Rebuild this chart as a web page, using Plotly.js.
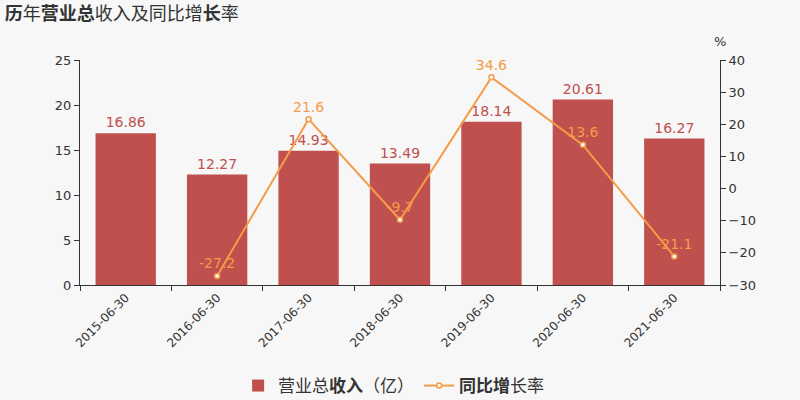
<!DOCTYPE html>
<html>
<head>
<meta charset="utf-8">
<script src="https://cdn.plot.ly/plotly-3.0.1.min.js"></script>
<style>html,body{margin:0;padding:0;background:#f7f7f7;}</style>
</head>
<body>
<div id="chart" style="width:800px;height:400px;"></div>
<script>
const categories = ["2015-06-30","2016-06-30","2017-06-30","2018-06-30","2019-06-30","2020-06-30","2021-06-30"];
const revenue = [16.86, 12.27, 14.93, 13.49, 18.14, 20.61, 16.27];
const growth = [null, -27.2, 21.6, -9.7, 34.6, 13.6, -21.1];
const leftTicks = [0, 5, 10, 15, 20, 25];
const rightTicks = [-30, -20, -10, 0, 10, 20, 30, 40];

const barColor = "#c0504d";
const lineColor = "#f39c4a";
const fontFam = "DejaVu Sans, Noto Sans CJK SC, sans-serif";

const traces = [
  {
    type: "bar",
    name: "营业总<b>收入</b>（亿）",
    x: categories,
    y: revenue,
    marker: {color: barColor},
    text: revenue.map(v => v.toFixed(2)),
    textposition: "outside",
    textfont: {color: barColor, size: 14, family: fontFam},
    cliponaxis: false,
    hoverinfo: "x+y"
  },
  {
    type: "scatter",
    mode: "lines+markers+text",
    name: "<b>同比增</b>长率",
    x: categories,
    y: growth,
    yaxis: "y2",
    line: {color: lineColor, width: 2},
    marker: {color: "#ffffff", size: 5, line: {color: lineColor, width: 1.5}},
    text: growth.map(v => v === null ? "" : String(v)),
    textposition: "top center",
    textfont: {color: lineColor, size: 14, family: fontFam},
    cliponaxis: false,
    connectgaps: false
  }
];

const layout = {
  width: 800,
  height: 400,
  paper_bgcolor: "#f7f7f7",
  plot_bgcolor: "#f7f7f7",
  font: {family: fontFam, color: "#333333", size: 12},
  margin: {l: 80, r: 80, t: 60, b: 115, autoexpand: false},
  title: {
    text: "<b>历</b>年<b>营业总</b>收入及同比增<b>长</b>率",
    xref: "container", yref: "container",
    x: 0.006, xanchor: "left", y: 0.965, yanchor: "middle",
    pad: {t: 0, b: 0, l: 0, r: 0},
    font: {family: "Noto Sans CJK SC, sans-serif", size: 18, color: "#333333"}
  },
  bargap: 0.34,
  showlegend: true,
  legend: {
    orientation: "h",
    x: 0.49, xanchor: "center",
    yref: "container",
    y: 0.035, yanchor: "middle",
    font: {family: "Noto Sans CJK SC, sans-serif", size: 17, color: "#333333"},
    bgcolor: "rgba(0,0,0,0)"
  },
  xaxis: {
    type: "category",
    tickangle: -45,
    tickson: "boundaries",
    ticks: "outside",
    ticklen: 5,
    tickcolor: "#333333",
    showline: true,
    linecolor: "#333333",
    linewidth: 1,
    showgrid: false,
    zeroline: false,
    automargin: false,
    tickfont: {size: 12, color: "#333333"}
  },
  yaxis: {
    range: [0, 25],
    tickvals: leftTicks,
    ticks: "outside",
    ticklen: 5,
    tickcolor: "#333333",
    showline: true,
    linecolor: "#333333",
    showgrid: false,
    zeroline: false,
    automargin: false,
    tickfont: {size: 13, color: "#333333"}
  },
  yaxis2: {
    overlaying: "y",
    side: "right",
    range: [-30, 40],
    tickvals: rightTicks,
    ticks: "outside",
    ticklen: 5,
    tickcolor: "#333333",
    showline: true,
    linecolor: "#333333",
    showgrid: false,
    zeroline: false,
    automargin: false,
    tickfont: {size: 13, color: "#333333"}
  },
  annotations: [
    {
      text: "%", xref: "paper", yref: "paper", x: 1.0, y: 1.04,
      xanchor: "center", yanchor: "bottom", showarrow: false,
      font: {size: 13, color: "#333333"}
    }
  ]
};

Plotly.newPlot("chart", traces, layout, {displayModeBar: false, staticPlot: true});
</script>
</body>
</html>
